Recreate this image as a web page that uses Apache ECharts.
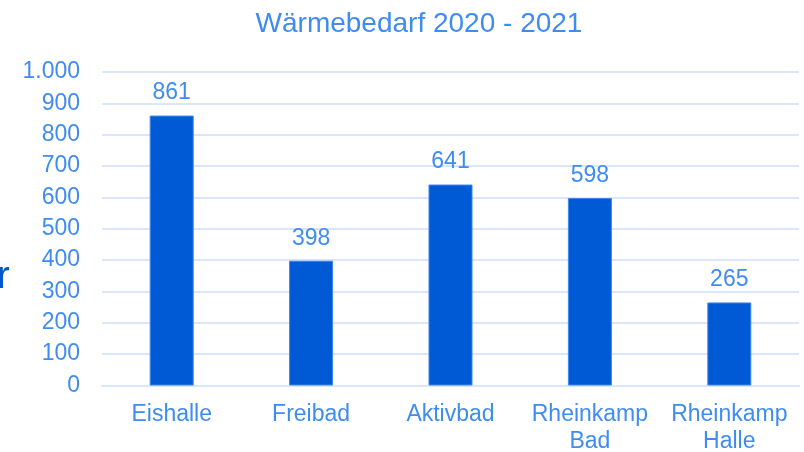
<!DOCTYPE html>
<html>
<head>
<meta charset="utf-8">
<script src="https://cdn.jsdelivr.net/npm/echarts@6/dist/echarts.min.js"></script>
<style>html,body{margin:0;padding:0;background:#fff;}#c{width:804px;height:452px;}</style>
</head>
<body>
<div id="c"></div>
<script>
const titleText = 'Wärmebedarf 2020 - 2021';
const categories = ['Eishalle', 'Freibad', 'Aktivbad', 'Rheinkamp\nBad', 'Rheinkamp\nHalle'];
const values = [861, 398, 641, 598, 265];
const yTicks = { min: 0, max: 1000, interval: 100 };

const lightBlue = '#3F8CF1';
const barBlue = '#005AD6';
const font = 'Liberation Sans, Arial, sans-serif';

const chart = echarts.init(document.getElementById('c'), null, { renderer: 'canvas' });
chart.setOption({
  animation: false,
  backgroundColor: '#ffffff',
  title: {
    text: titleText,
    left: 414,
    top: 5,
    textAlign: 'center',
    textStyle: { color: lightBlue, fontFamily: font, fontSize: 28, fontWeight: 'normal' }
  },
  graphic: [{
    type: 'text',
    left: -3,
    top: 259,
    style: { text: 'r', fill: '#0055D0', font: '38px Liberation Sans, Arial, sans-serif' }
  }],
  grid: { left: 102, right: 5, top: 72, bottom: 66.5, containLabel: false, outerBoundsMode: 'none' },
  xAxis: {
    type: 'category',
    data: categories,
    axisLine: { show: true, lineStyle: { color: '#D9E6FB', width: 2 } },
    axisTick: { show: false },
    axisLabel: {
      color: lightBlue, fontFamily: font, fontSize: 23, lineHeight: 27, margin: 16,
      interval: 0
    }
  },
  yAxis: {
    type: 'value',
    min: yTicks.min, max: yTicks.max, interval: yTicks.interval,
    axisLine: { show: false },
    axisTick: { show: false },
    splitLine: { lineStyle: { color: '#D9E6FB', width: 2 } },
    axisLabel: {
      color: lightBlue, fontFamily: font, fontSize: 23, margin: 22,
      formatter: v => v >= 1000 ? (Math.floor(v / 1000) + '.' + String(v % 1000).padStart(3, '0')) : String(v)
    }
  },
  series: [{
    type: 'bar',
    data: values,
    barWidth: 44,
    itemStyle: { color: barBlue, borderColor: '#3C86EE', borderWidth: 1 },
    label: {
      show: true, position: 'top', distance: 11,
      color: lightBlue, fontFamily: font, fontSize: 23
    }
  }]
});
</script>
</body>
</html>
